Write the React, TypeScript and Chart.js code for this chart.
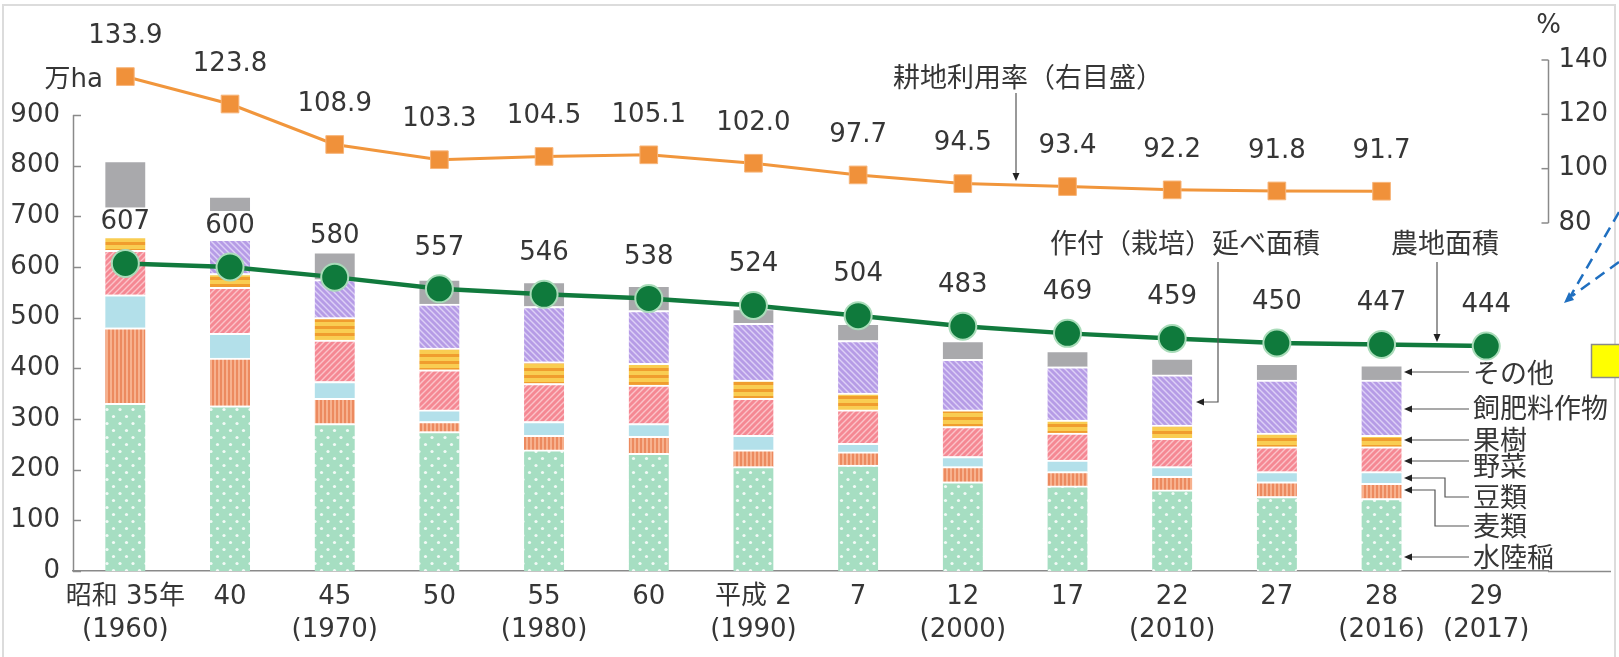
import React, { useEffect, useRef } from 'react';
import { Chart, registerables } from 'chart.js';

Chart.register(...registerables);

// ---------- data ----------
const xLine1 = ['昭和 35年', '40', '45', '50', '55', '60', '平成 2', '7', '12', '17', '22', '27', '28', '29'];
const xLine2 = ['(1960)', '', '(1970)', '', '(1980)', '', '(1990)', '', '(2000)', '', '(2010)', '', '(2016)', '(2017)'];

const seriesNames = ['水陸稲', '麦類', '豆類', '野菜', '果樹', '飼肥料作物', 'その他'];
const rice = [331, 326, 291, 275, 239, 232, 206, 209, 176, 168, 160, 147, 143, null];
const wheat = [149, 94, 50, 20, 29, 34, 33, 26, 30, 28, 27, 29, 30, null];
const beans = [65, 49, 33, 23, 27, 25, 29, 17, 20, 23, 19, 20, 23, null];
const vegetables = [88, 91, 82, 79, 75, 76, 73, 66, 59, 53, 56, 49, 49, null];
const fruit = [27, 27, 44, 43, 43, 43, 36, 33, 33, 26, 26, 27, 23, null];
const feed = [45, 113, 75, 87, 109, 104, 112, 104, 100, 105, 99, 105, 109, null];
const others = [105, 40, 55, 49, 49, 50, 29, 34, 37, 32, 33, 33, 30, null];

const farmland = [607, 600, 580, 557, 546, 538, 524, 504, 483, 469, 459, 450, 447, 444];
const utilization = [133.9, 123.8, 108.9, 103.3, 104.5, 105.1, 102.0, 97.7, 94.5, 93.4, 92.2, 91.8, 91.7, null];

const leftTicks = [0, 100, 200, 300, 400, 500, 600, 700, 800, 900];
const rightTicks = [80, 100, 120, 140];

const farmlandName = '農地面積';
const plantedName = '作付（栽培）延べ面積';
const utilName = '耕地利用率（右目盛）';

// ---------- styles / layout ----------
const CJK_FONT = "'Noto Sans CJK JP', 'Noto Sans', sans-serif";
const NUM_FONT = "'DejaVu Sans', 'Noto Sans CJK JP', sans-serif";
const FS = 27;
const NS = 26;
const TEXT = '#363636';
const AXIS = '#8a8a8a';

const AREA_TOP = 50; // chart area top (px)
const AREA_BOTTOM = 571; // value 0 (px)
const LEFT_TOP_PX = 115; // pixel of the left axis' top tick
const R_LOW_PX = 223; // pixel of the right axis' lowest tick
const R_HIGH_PX = 60; // pixel of the right axis' highest tick

function pattern(w: number, h: number, draw: (g: CanvasRenderingContext2D) => void) {
  const c = document.createElement('canvas');
  c.width = w;
  c.height = h;
  const g = c.getContext('2d')!;
  draw(g);
  return g.createPattern(c, 'repeat')!;
}

function makeFills() {
  const riceP = pattern(13, 14, (g) => {
    g.fillStyle = '#a6dec2';
    g.fillRect(0, 0, 13, 14);
    g.fillStyle = 'rgba(255,255,255,0.85)';
    g.beginPath(); g.arc(3, 3.5, 1.6, 0, Math.PI * 2); g.fill();
    g.beginPath(); g.arc(9.5, 10.5, 1.6, 0, Math.PI * 2); g.fill();
  });
  const wheatP = pattern(4, 4, (g) => {
    g.fillStyle = '#f7b18e';
    g.fillRect(0, 0, 4, 4);
    g.fillStyle = '#ec8a5f';
    g.fillRect(0, 0, 2, 4);
  });
  const vegP = pattern(6, 6, (g) => {
    g.fillStyle = '#f58893';
    g.fillRect(0, 0, 6, 6);
    g.strokeStyle = '#fbc3c9';
    g.lineWidth = 1.4;
    g.beginPath();
    g.moveTo(-1, 7); g.lineTo(7, -1);
    g.moveTo(-1, 1); g.lineTo(1, -1);
    g.moveTo(5, 7); g.lineTo(7, 5);
    g.stroke();
  });
  const fruitP = pattern(4, 7, (g) => {
    g.fillStyle = '#f9cd52';
    g.fillRect(0, 0, 4, 7);
    g.fillStyle = '#f09d2e';
    g.fillRect(0, 4, 4, 3);
  });
  const feedP = pattern(6, 6, (g) => {
    g.fillStyle = '#b69ce6';
    g.fillRect(0, 0, 6, 6);
    g.strokeStyle = '#ddd0f6';
    g.lineWidth = 1.4;
    g.beginPath();
    g.moveTo(-1, -1); g.lineTo(7, 7);
    g.moveTo(5, -1); g.lineTo(7, 1);
    g.moveTo(-1, 5); g.lineTo(1, 7);
    g.stroke();
  });
  return [riceP, wheatP, '#b3e0ea', vegP, fruitP, feedP, '#a9a9ac'];
}

function arrowLeft(ctx: CanvasRenderingContext2D, x: number, y: number) {
  ctx.beginPath();
  ctx.moveTo(x, y);
  ctx.lineTo(x + 8, y - 3.5);
  ctx.lineTo(x + 8, y + 3.5);
  ctx.closePath();
  ctx.fill();
}
function arrowDown(ctx: CanvasRenderingContext2D, x: number, y: number) {
  ctx.beginPath();
  ctx.moveTo(x, y);
  ctx.lineTo(x - 3.5, y - 8);
  ctx.lineTo(x + 3.5, y - 8);
  ctx.closePath();
  ctx.fill();
}

const annotPlugin = {
  id: 'annot',
  afterDatasetsDraw(chart: any) {
    const ctx: CanvasRenderingContext2D = chart.ctx;
    const xs = chart.scales.x, ys = chart.scales.y, y1 = chart.scales.y1;
    ctx.save();
    ctx.font = `${NS}px ${NUM_FONT}`;
    ctx.textAlign = 'center';
    ctx.textBaseline = 'middle';
    farmland.forEach((v, i) => {
      const px = xs.getPixelForValue(i);
      const py = ys.getPixelForValue(v) - 41;
      const s = String(v);
      const w = ctx.measureText(s).width;
      ctx.fillStyle = '#fff';
      ctx.fillRect(px - w / 2 - 4, py - 15, w + 8, 30);
      ctx.fillStyle = TEXT;
      ctx.fillText(s, px, py);
    });
    utilization.forEach((v, i) => {
      if (v == null) return;
      const px = xs.getPixelForValue(i);
      const py = y1.getPixelForValue(v) - 40;
      ctx.fillStyle = TEXT;
      ctx.fillText(v.toFixed(1), px, py);
    });
    ctx.restore();
  },
  afterDraw(chart: any) {
    const ctx: CanvasRenderingContext2D = chart.ctx;
    const ca = chart.chartArea;
    const ys = chart.scales.y, y1 = chart.scales.y1;
    ctx.save();
    // frame
    ctx.strokeStyle = '#dcdcdc';
    ctx.lineWidth = 2;
    ctx.strokeRect(3, 5, 1612, 700);

    // left axis line (0 .. top tick) and inner ticks
    ctx.strokeStyle = AXIS;
    ctx.lineWidth = 1.5;
    const lx = ca.left + 0.5;
    ctx.beginPath();
    ctx.moveTo(lx, ys.getPixelForValue(leftTicks[0]));
    ctx.lineTo(lx, ys.getPixelForValue(leftTicks[leftTicks.length - 1]));
    ctx.stroke();
    leftTicks.forEach((v) => {
      const py = Math.round(ys.getPixelForValue(v)) + 0.5;
      ctx.beginPath();
      ctx.moveTo(ca.left, py);
      ctx.lineTo(ca.left + 8, py);
      ctx.stroke();
    });
    // extension of x axis line
    ctx.beginPath();
    ctx.moveTo(ca.right, ca.bottom + 0.5);
    ctx.lineTo(1611, ca.bottom + 0.5);
    ctx.stroke();

    // right axis
    const rx = ca.right + 0.5;
    ctx.beginPath();
    ctx.moveTo(rx, y1.getPixelForValue(rightTicks[rightTicks.length - 1]));
    ctx.lineTo(rx, y1.getPixelForValue(rightTicks[0]));
    ctx.stroke();
    ctx.font = `${NS}px ${NUM_FONT}`;
    ctx.fillStyle = TEXT;
    ctx.textBaseline = 'middle';
    ctx.textAlign = 'left';
    rightTicks.forEach((v) => {
      const py = y1.getPixelForValue(v);
      ctx.beginPath();
      ctx.moveTo(rx - 7, py);
      ctx.lineTo(rx, py);
      ctx.stroke();
      ctx.fillText(String(v), rx + 10, py);
    });
    ctx.textAlign = 'center';
    ctx.fillText('%', rx, 26);

    // unit label
    ctx.textAlign = 'right';
    ctx.fillText('万ha', 103, 80);

    // series legend with arrows
    const legendOrder = [6, 5, 4, 3, 2, 1, 0];
    const labelY = [373, 408, 440, 466, 497, 526, 557];
    const arrowY = [372, 409, 440, 461, 478, 490, 557];
    const elbowX: (number | null)[] = [null, null, null, null, 1445, 1435, null];
    const tipX = 1404;
    const textX = 1473;
    ctx.strokeStyle = '#555';
    ctx.fillStyle = '#222';
    ctx.lineWidth = 1.2;
    legendOrder.forEach((si, k) => {
      const ay = arrowY[k];
      const ly = labelY[k];
      ctx.beginPath();
      ctx.moveTo(tipX + 6, ay);
      const ex = elbowX[k];
      if (ex != null) {
        ctx.lineTo(ex, ay);
        ctx.lineTo(ex, ly);
        ctx.lineTo(textX - 4, ly);
      } else {
        ctx.lineTo(textX - 4, ay);
      }
      ctx.stroke();
      arrowLeft(ctx, tipX, ay);
    });
    ctx.font = `${FS}px ${CJK_FONT}`;
    ctx.fillStyle = TEXT;
    ctx.textAlign = 'left';
    legendOrder.forEach((si, k) => {
      ctx.fillText(seriesNames[si], textX, labelY[k]);
    });

    // planted area annotation
    ctx.fillText(plantedName, 1050, 243);
    ctx.strokeStyle = '#555';
    ctx.fillStyle = '#222';
    ctx.beginPath();
    ctx.moveTo(1218, 262);
    ctx.lineTo(1218, 402);
    ctx.lineTo(1202, 402);
    ctx.stroke();
    arrowLeft(ctx, 1196, 402);

    // farmland annotation
    ctx.fillStyle = TEXT;
    ctx.textAlign = 'center';
    ctx.fillText(farmlandName, 1445, 243);
    ctx.strokeStyle = '#555';
    ctx.fillStyle = '#222';
    ctx.beginPath();
    ctx.moveTo(1437, 262);
    ctx.lineTo(1437, 335);
    ctx.stroke();
    arrowDown(ctx, 1437, 342);

    // utilization annotation
    ctx.fillStyle = TEXT;
    ctx.textAlign = 'left';
    ctx.fillText(utilName, 893, 77);
    ctx.strokeStyle = '#555';
    ctx.fillStyle = '#222';
    ctx.beginPath();
    ctx.moveTo(1016, 93);
    ctx.lineTo(1016, 174);
    ctx.stroke();
    arrowDown(ctx, 1016, 181);

    // page artefacts at right edge
    ctx.fillStyle = '#ffff00';
    ctx.fillRect(1591, 344, 40, 33);
    ctx.strokeStyle = '#8a8a8a';
    ctx.lineWidth = 1.5;
    ctx.strokeRect(1591.5, 344.5, 40, 33);
    ctx.strokeStyle = '#1f6fc0';
    ctx.lineWidth = 2.5;
    ctx.setLineDash([11, 7]);
    ctx.beginPath();
    ctx.moveTo(1619, 212);
    ctx.lineTo(1570, 297);
    ctx.moveTo(1619, 262);
    ctx.lineTo(1572, 296);
    ctx.stroke();
    ctx.setLineDash([]);
    ctx.fillStyle = '#1f6fc0';
    ctx.beginPath();
    ctx.moveTo(1564, 303);
    ctx.lineTo(1574, 300);
    ctx.lineTo(1569, 292);
    ctx.closePath();
    ctx.fill();
    ctx.restore();
  },
};

export default function App() {
  const ref = useRef<HTMLCanvasElement | null>(null);
  useEffect(() => {
    if (!ref.current) return;
    const fills = makeFills();
    const stackSeries = [rice, wheat, beans, vegetables, fruit, feed, others];

    // left axis: 0 at AREA_BOTTOM, top tick at LEFT_TOP_PX; extend max to the chart area top
    const leftTop = leftTicks[leftTicks.length - 1];
    const leftPerPx = leftTop / (AREA_BOTTOM - LEFT_TOP_PX);
    const yMax = leftTop + (LEFT_TOP_PX - AREA_TOP) * leftPerPx;

    // right axis mapping
    const perUnit = (R_LOW_PX - R_HIGH_PX) / (rightTicks[rightTicks.length - 1] - rightTicks[0]);
    const y1Min = rightTicks[0] - (AREA_BOTTOM - R_LOW_PX) / perUnit;
    const y1Max = rightTicks[0] + (R_LOW_PX - AREA_TOP) / perUnit;

    const barSets = stackSeries.map((arr, si) => ({
      type: 'bar' as const,
      label: seriesNames[si],
      data: arr.map((v, i) => (v == null ? null : { x: i, y: v })).filter(Boolean) as any,
      backgroundColor: fills[si] as any,
      borderColor: '#ffffff',
      borderWidth: { top: 2, bottom: 0, left: 0, right: 0 },
      borderSkipped: false,
      barThickness: 40,
      yAxisID: 'y',
      stack: 'crops',
      order: 3,
    }));

    const chart = new Chart(ref.current, {
      type: 'bar',
      data: {
        datasets: [
          ...barSets,
          {
            type: 'line' as const,
            label: farmlandName,
            data: farmland.map((v, i) => ({ x: i, y: v })),
            borderColor: '#117a3d',
            borderWidth: 4.5,
            pointRadius: 13.5,
            pointBackgroundColor: '#0f7a3c',
            pointBorderColor: '#a9dcb9',
            pointBorderWidth: 2,
            yAxisID: 'y',
            stack: 'farm',
            order: 2,
          } as any,
          {
            type: 'line' as const,
            label: utilName,
            data: utilization.map((v, i) => (v == null ? null : { x: i, y: v })).filter(Boolean) as any,
            borderColor: '#f1963c',
            borderWidth: 3,
            pointStyle: 'rect',
            pointRadius: 12.5,
            pointBackgroundColor: '#f0913a',
            pointBorderColor: '#f7b57a',
            pointBorderWidth: 1,
            yAxisID: 'y1',
            clip: false,
            order: 1,
          } as any,
        ],
      },
      options: {
        responsive: true,
        maintainAspectRatio: false,
        animation: false,
        layout: { padding: { top: AREA_TOP, right: 71, left: 0, bottom: 0 } },
        plugins: { legend: { display: false }, tooltip: { enabled: false } },
        scales: {
          x: {
            type: 'linear',
            min: -0.5,
            max: 13.59,
            bounds: 'data',
            offset: false,
            stacked: true,
            afterBuildTicks: (s: any) => {
              s.ticks = xLine1.map((_, i) => ({ value: i }));
            },
            afterFit: (s: any) => {
              s.height = 657 - AREA_BOTTOM;
            },
            ticks: {
              autoSkip: false,
              maxRotation: 0,
              minRotation: 0,
              padding: 9.5,
              color: TEXT,
              font: { family: NUM_FONT, size: NS, lineHeight: 33 / NS },
              callback: (v: any) => {
                const i = Math.round(Number(v));
                return xLine2[i] ? [xLine1[i], xLine2[i]] : xLine1[i];
              },
            },
            grid: { display: false, drawTicks: false, offset: false },
            border: { display: true, color: AXIS, width: 1.5 },
          } as any,
          y: {
            type: 'linear',
            min: 0,
            max: yMax,
            stacked: true,
            afterBuildTicks: (s: any) => {
              s.ticks = leftTicks.map((v) => ({ value: v }));
            },
            afterFit: (s: any) => {
              s.width = 73;
            },
            ticks: {
              padding: 13,
              color: TEXT,
              font: { family: NUM_FONT, size: NS },
            },
            grid: { display: false, drawTicks: false },
            border: { display: false },
          } as any,
          y1: {
            type: 'linear',
            display: false,
            position: 'right',
            min: y1Min,
            max: y1Max,
          },
        },
      },
      plugins: [annotPlugin],
    });
    return () => chart.destroy();
  }, []);

  return (
    <div style={{ position: 'absolute', left: 0, top: 0, width: 1619, height: 657, background: '#fff' }}>
      <canvas ref={ref} />
    </div>
  );
}
